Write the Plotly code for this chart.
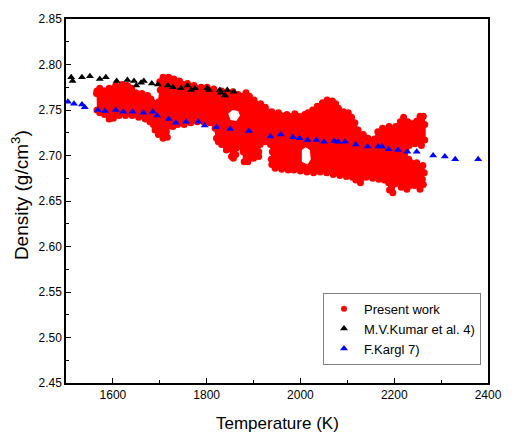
import plotly.graph_objects as go

# ---- data ----
# Present work: outline of the dense measured-point cloud (T in K, density in g/cm3)
pw_T = [1565,1566,1572,1582,1592,1606,1620,1631,1640,1649,1662,1674,1681,1686,1698,1701,1700,1707,1719,1730,
        1742,1759,1773,1788,1801,1815,1832,1846,1856,1867,1877,1884,1891,1901,1915,1925,1939,1953,1971,1988,
        2009,2016,2026,2036,2047,2057,2068,2075,2081,2092,2102,2109,2116,2123,2134,2144,2158,2165,2175,2189,
        2203,2213,2220,2229,2239,2248,2255,2262,2265,2265,2258,2244,2232,2225,2222,2231,2248,2261,2264,2260,
        2262,2255,2244,2234,2227,2215,2210,2202,2197,2190,2188,2179,2167,2154,2140,2128,2118,2111,2098,2084,
        2070,2056,2042,2028,2014,2000,1986,1974,1960,1946,1939,1938,1940,1936,1925,1914,1911,1911,1900,1888,
        1880,1878,1873,1863,1862,1857,1853,1849,1842,1832,1825,1821,1818,1807,1794,1780,1766,1752,1738,1728,
        1717,1714,1716,1707,1697,1690,1686,1679,1669,1655,1641,1627,1613,1601,1592,1582,1572,1566]
pw_D = [2.768,2.771,2.774,2.771,2.774,2.777,2.778,2.777,2.774,2.769,2.768,2.766,2.762,2.758,2.759,2.772,2.781,2.786,2.786,2.784,
        2.782,2.779,2.777,2.775,2.775,2.773,2.771,2.768,2.770,2.767,2.765,2.769,2.765,2.761,2.757,2.753,2.748,2.747,2.745,2.746,
        2.745,2.747,2.750,2.754,2.758,2.761,2.760,2.757,2.752,2.748,2.747,2.742,2.736,2.728,2.723,2.719,2.718,2.726,2.730,2.732,
        2.732,2.737,2.742,2.737,2.735,2.738,2.743,2.743,2.734,2.717,2.711,2.713,2.711,2.706,2.701,2.696,2.692,2.689,2.681,2.674,
        2.668,2.663,2.667,2.667,2.663,2.665,2.671,2.669,2.659,2.662,2.670,2.673,2.674,2.675,2.676,2.670,2.673,2.676,2.677,2.678,
        2.679,2.681,2.682,2.681,2.682,2.683,2.684,2.684,2.685,2.686,2.690,2.696,2.704,2.712,2.715,2.712,2.704,2.699,2.697,2.693,
        2.693,2.704,2.710,2.708,2.701,2.697,2.699,2.708,2.706,2.712,2.715,2.719,2.730,2.736,2.737,2.737,2.736,2.734,2.734,2.732,
        2.732,2.726,2.720,2.719,2.723,2.728,2.734,2.737,2.740,2.742,2.744,2.744,2.744,2.741,2.740,2.745,2.747,2.750]
# empty gaps inside the cloud
gap1_T = [1846,1855,1867,1871,1863,1851]
gap1_D = [2.746,2.750,2.749,2.744,2.738,2.739]
gap2_T = [2003,2011,2020,2022,2015,2003]
gap2_D = [2.706,2.709,2.706,2.696,2.690,2.693]

# M.V.Kumar et al. 4)
kumar_T = [1511,1514,1534,1551,1572,1585,1608,1631,1645,1650,1660,1666,1683,1696,1717,1728,1745,1759,1767,1775,
           1801,1805,1828,1830,1839,1844,1858]
kumar_D = [2.786,2.782,2.786,2.787,2.784,2.786,2.782,2.783,2.782,2.777,2.780,2.782,2.779,2.778,2.777,2.775,2.774,2.777,2.772,2.774,
           2.774,2.772,2.772,2.769,2.766,2.772,2.770]

# F.Kargl 7)
kargl_T = [1504,1517,1534,1540,1568,1583,1606,1622,1642,1665,1685,1694,1719,1734,1756,1782,1796,1821,1850,1890,
           1936,1958,1984,1998,2015,2034,2050,2072,2080,2095,2118,2143,2166,2174,2188,2208,2228,2248,2283,2308,
           2330,2379]
kargl_D = [2.759,2.757,2.756,2.753,2.750,2.749,2.750,2.748,2.748,2.747,2.748,2.744,2.740,2.736,2.737,2.737,2.733,2.731,2.729,2.727,
           2.721,2.723,2.720,2.719,2.717,2.717,2.715,2.716,2.715,2.715,2.712,2.710,2.710,2.710,2.707,2.706,2.704,2.704,2.700,2.699,
           2.696,2.696]

x_ticks = [1600, 1800, 2000, 2200, 2400]
y_ticks = [2.45, 2.50, 2.55, 2.60, 2.65, 2.70, 2.75, 2.80, 2.85]

RED = "#ff0000"
FONT = "Arial, 'Liberation Sans', sans-serif"

fig = go.Figure()
# legend entry for the measured points
fig.add_trace(go.Scatter(x=[None], y=[None], mode="markers", name="Present work",
                         marker=dict(symbol="circle", size=6, color=RED)))
fig.add_trace(go.Scatter(x=pw_T, y=pw_D, mode="lines", fill="toself", fillcolor=RED,
                         line=dict(color=RED, width=2), showlegend=False, hoverinfo="skip"))
fig.add_trace(go.Scatter(x=pw_T, y=pw_D, mode="markers", showlegend=False,
                         marker=dict(symbol="circle", size=7, color=RED)))
fig.add_trace(go.Scatter(x=gap1_T + [None] + gap2_T, y=gap1_D + [None] + gap2_D, mode="lines",
                         fill="toself", fillcolor="white", line=dict(width=0, color="white"),
                         showlegend=False, hoverinfo="skip"))
fig.add_trace(go.Scatter(x=kumar_T, y=kumar_D, mode="markers", name="M.V.Kumar et al. 4)",
                         marker=dict(symbol="triangle-up", size=7, color="black")))
fig.add_trace(go.Scatter(x=kargl_T, y=kargl_D, mode="markers", name="F.Kargl 7)",
                         marker=dict(symbol="triangle-up", size=7, color="#0000ff")))

axis_common = dict(showgrid=False, zeroline=False, showline=True, mirror=True,
                   linecolor="black", linewidth=1.5, ticks="inside", ticklen=5, tickwidth=1.2,
                   tickcolor="black", tickfont=dict(family=FONT, size=12, color="black"))
fig.update_xaxes(range=[1500, 2400], tickvals=x_ticks, ticktext=[str(v) for v in x_ticks],
                 minor=dict(dtick=100, tick0=1500, ticks="inside", ticklen=3, tickcolor="black"),
                 **axis_common)
fig.update_yaxes(range=[2.45, 2.85], tickvals=y_ticks, ticktext=[f"{v:.2f}" for v in y_ticks],
                 minor=dict(dtick=0.025, tick0=2.45, ticks="inside", ticklen=3, tickcolor="black"),
                 **axis_common)

fig.update_layout(
    width=514, height=433,
    margin=dict(l=66, r=16, t=19, b=50),
    paper_bgcolor="white", plot_bgcolor="white",
    font=dict(family=FONT, color="black"),
    legend=dict(x=0.609, y=0.149, xanchor="left", yanchor="middle",
                bgcolor="white", bordercolor="#808080", borderwidth=1,
                font=dict(family=FONT, size=13, color="black")),
    annotations=[
        dict(text="Temperature (K)", xref="paper", yref="paper", x=0.5, y=-0.11,
             xanchor="center", yanchor="middle", showarrow=False,
             font=dict(family=FONT, size=17, color="black")),
        dict(text="Density (g/cm<sup>3</sup>)", xref="paper", yref="paper", x=-0.110, y=0.515,
             xanchor="center", yanchor="middle", textangle=-90, showarrow=False,
             font=dict(family=FONT, size=19, color="black")),
    ],
)

fig.write_html("out.html", config={"displayModeBar": False},
               post_script="document.body.style.margin='0px';")
